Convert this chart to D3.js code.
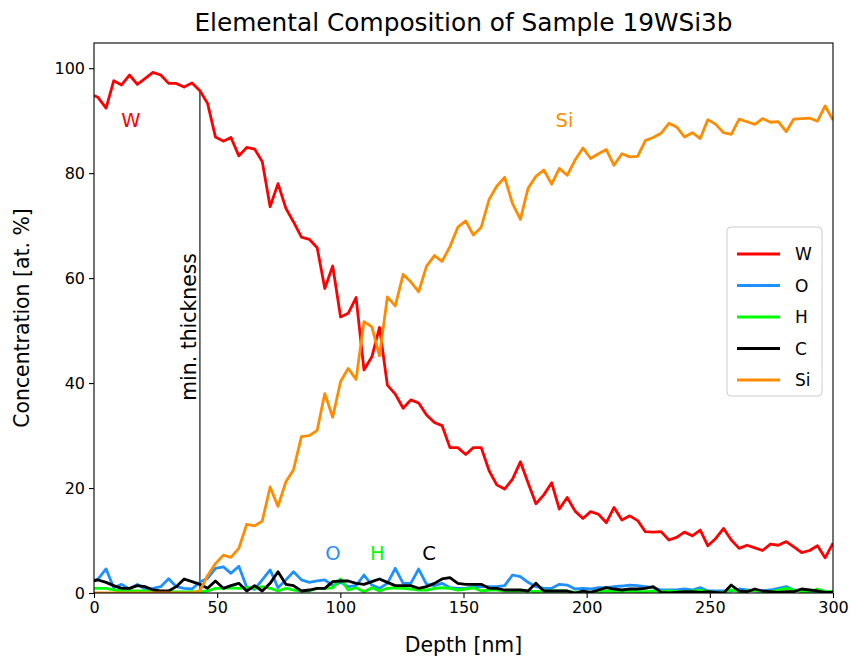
<!DOCTYPE html>
<html><head><meta charset="utf-8">
<script src="https://cdn.jsdelivr.net/npm/d3@7"></script>
<style>body{margin:0;background:#fff}svg{display:block;font-family:"DejaVu Sans",sans-serif}</style>
</head><body><svg id="c" width="855" height="660"></svg>
<script>
const depth = [0, 1.7, 4.9, 8.0, 11.2, 14.4, 17.6, 20.7, 23.9, 27.1, 30.3, 33.4, 36.6, 39.8, 43.0, 46.1, 49.3, 52.5, 55.6, 58.8, 62.0, 65.2, 68.3, 71.5, 74.7, 77.9, 81.0, 84.2, 87.4, 90.6, 93.7, 96.9, 100.1, 103.2, 106.4, 109.6, 112.8, 115.9, 119.1, 122.3, 125.5, 128.6, 131.8, 135.0, 138.2, 141.3, 144.5, 147.7, 150.9, 154.0, 157.2, 160.4, 163.5, 166.7, 169.9, 173.1, 176.2, 179.4, 182.6, 185.8, 188.9, 192.1, 195.3, 198.5, 201.6, 204.8, 208.0, 211.1, 214.3, 217.5, 220.7, 223.8, 227.0, 230.2, 233.4, 236.5, 239.7, 242.9, 246.1, 249.2, 252.4, 255.6, 258.7, 261.9, 265.1, 268.3, 271.4, 274.6, 277.8, 281.0, 284.1, 287.3, 290.5, 293.7, 296.8, 300.0];
const W = [94.8, 94.4, 92.4, 97.6, 96.8, 98.7, 96.9, 98.0, 99.2, 98.7, 97.1, 97.1, 96.4, 97.2, 95.7, 93.3, 86.9, 86.1, 86.8, 83.3, 84.9, 84.6, 82.2, 73.6, 78.0, 73.3, 70.7, 67.8, 67.4, 65.8, 58.0, 62.3, 52.6, 53.3, 56.3, 42.5, 45.0, 50.6, 39.6, 37.9, 35.2, 36.8, 36.2, 33.9, 32.5, 31.9, 27.7, 27.7, 26.4, 27.7, 27.7, 23.3, 20.6, 19.8, 21.7, 25.0, 21.0, 17.0, 18.7, 21.0, 16.0, 18.2, 15.6, 14.2, 15.5, 15.0, 13.4, 16.3, 13.9, 14.7, 13.8, 11.7, 11.6, 11.7, 10.1, 10.6, 11.6, 10.9, 12.0, 9.0, 10.4, 12.3, 10.1, 8.5, 9.1, 8.6, 8.1, 9.3, 9.1, 9.8, 8.8, 7.7, 8.1, 9.0, 6.7, 9.5];
const O = [2.4, 2.7, 4.6, 1.0, 1.65, 0.76, 1.65, 0.76, 0.9, 1.2, 2.7, 1.2, 0.9, 0.76, 2.1, 2.8, 4.7, 5.0, 3.75, 5.1, 1.1, 0.7, 2.5, 4.4, 1.0, 2.5, 4.06, 2.5, 2.03, 2.29, 2.48, 1.4, 2.03, 1.21, 1.4, 3.43, 1.52, 0.89, 1.84, 4.7, 1.84, 1.84, 4.57, 1.65, 1.4, 1.84, 1.02, 0.89, 0.89, 1.21, 1.21, 1.21, 1.21, 1.4, 3.43, 3.1, 2.03, 1.21, 0.89, 0.89, 1.65, 1.52, 0.76, 0.89, 0.76, 1.02, 1.02, 1.21, 1.33, 1.52, 1.4, 1.21, 1.02, 0.57, 0.57, 0.57, 0.76, 0.57, 1.02, 0.38, 0.38, 0.38, 0.38, 0.76, 0.57, 0.38, 0.38, 0.57, 0.89, 1.21, 0.57, 0.38, 0.25, 0.25, 0.25, 0.25];
const H = [0.9, 0.9, 0.9, 0.57, 0.38, 0.38, 0.38, 0.38, 0.25, 0.25, 0.25, 0.2, 0.2, 0.2, 0.25, 0.38, 0.9, 0.9, 1.0, 0.9, 1.0, 0.9, 1.2, 0.9, 0.38, 0.9, 0.57, 0.38, 0.38, 0.9, 0.9, 1.0, 2.67, 0.57, 1.0, 0.25, 1.0, 0.38, 0.9, 1.0, 0.9, 0.76, 0.57, 0.57, 0.9, 1.0, 0.9, 0.57, 0.76, 1.0, 0.38, 0.57, 0.57, 0.38, 0.38, 0.38, 0.38, 0.25, 0.38, 0.38, 0.38, 0.38, 0.13, 0.25, 0.13, 0.25, 0.38, 0.25, 0.25, 0.38, 0.25, 0.25, 0.38, 0.25, 0.38, 0.25, 0.25, 0.38, 0.5, 0.25, 0.13, 0.13, 0.6, 0.25, 0.38, 0.5, 0.25, 0.25, 0.57, 0.9, 0.57, 0.25, 0.13, 0.76, 0.25, 0.25];
const C = [2.3, 2.48, 2.03, 1.4, 0.89, 0.89, 1.4, 1.21, 0.57, 0.38, 0.38, 1.21, 2.67, 2.16, 1.65, 0.89, 2.29, 0.89, 1.4, 1.84, 0.38, 1.4, 0.38, 1.84, 4.06, 1.65, 1.4, 0.38, 0.57, 0.89, 0.89, 2.16, 2.29, 2.29, 1.84, 1.65, 2.16, 2.67, 2.03, 1.4, 1.4, 1.4, 0.89, 1.21, 1.84, 2.67, 2.92, 1.84, 1.65, 1.65, 1.65, 0.89, 0.89, 0.57, 0.57, 0.57, 0.38, 1.84, 0.38, 0.38, 0.38, 0.38, 0.0, 0.38, 0.13, 0.57, 1.02, 0.76, 0.57, 0.76, 0.76, 0.89, 1.21, 0.13, 0.0, 0.13, 0.25, 0.25, 0.13, 0.25, 0.13, 0.0, 1.52, 0.38, 0.25, 0.76, 0.38, 0.25, 0.13, 0.25, 0.25, 0.76, 0.57, 0.38, 0.13, 0.13];
const Si = [0, 0, 0, 0, 0, 0, 0, 0, 0, 0, 0, 0, 0, 0, 0.4, 3.3, 5.6, 7.2, 6.8, 8.5, 13.1, 12.8, 13.7, 20.2, 16.5, 21.2, 23.5, 29.8, 30.0, 31.0, 38.0, 33.5, 40.3, 42.8, 40.7, 51.7, 50.7, 45.2, 56.4, 54.7, 60.7, 59.3, 57.4, 62.3, 64.3, 63.2, 66.0, 69.7, 70.9, 68.2, 69.7, 75.0, 77.5, 79.2, 74.2, 71.2, 77.1, 79.4, 80.6, 77.9, 80.9, 79.6, 82.5, 84.8, 82.8, 83.7, 84.5, 81.5, 83.7, 83.1, 83.2, 86.2, 86.8, 87.6, 89.5, 88.8, 86.9, 87.7, 86.6, 90.2, 89.3, 87.7, 87.4, 90.3, 89.8, 89.3, 90.4, 89.7, 89.8, 87.9, 90.3, 90.4, 90.5, 89.9, 92.8, 90.1];
const seriesNames = ["W", "O", "H", "C", "Si"];
const seriesValues = [W, O, H, C, Si];
const seriesColors = ["#ff0000", "#1e90ff", "#00ff00", "#000000", "#ff8c00"];
const xTicks = [0, 50, 100, 150, 200, 250, 300];
const yTicks = [0, 20, 40, 60, 80, 100];
const minThickness = 43;
const labelPos = [[15, 90], [97, 7.5], [115, 7.5], [136, 7.5], [191, 90]];

const svg = d3.select("#c");
const m = {l: 94, t: 43, r: 22, b: 67};
const w = 855 - m.l - m.r, h = 660 - m.t - m.b;
const x = d3.scaleLinear().domain([0, 300]).range([0, w]);
const y = d3.scaleLinear().domain([0, 104.8]).range([h, 0]);
const g = svg.append("g").attr("transform", `translate(${m.l},${m.t})`);

svg.append("defs").append("clipPath").attr("id", "clip").append("rect").attr("width", w).attr("height", h);

const pg = g.append("g").attr("clip-path", "url(#clip)");
const wAt = W[depth.indexOf(minThickness)];
pg.append("line").attr("x1", x(minThickness)).attr("x2", x(minThickness))
  .attr("y1", y(0)).attr("y2", y(wAt)).attr("stroke", "#000").attr("stroke-width", 1.1);

const line = d3.line().x((d, i) => x(depth[i])).y(d => y(d));
seriesValues.forEach((vals, k) => {
  pg.append("path").datum(vals).attr("d", line).attr("fill", "none")
    .attr("stroke", seriesColors[k]).attr("stroke-width", 2.8).attr("stroke-linejoin", "round").attr("stroke-linecap", "butt");
});

seriesNames.forEach((n, k) => {
  g.append("text").attr("x", x(labelPos[k][0])).attr("y", y(labelPos[k][1]))
    .attr("text-anchor", "middle").attr("dominant-baseline", "central")
    .attr("fill", seriesColors[k]).attr("font-size", 19.5).text(n);
});
g.append("text").attr("transform", `translate(${x(minThickness) - 4},${y(50.7)}) rotate(-90)`)
  .attr("text-anchor", "middle").attr("font-size", 20.4).text("min. thickness");

const xa = g.append("g").attr("transform", `translate(0,${h})`)
  .call(d3.axisBottom(x).tickValues(xTicks).tickSize(5).tickPadding(4));
const ya = g.append("g").call(d3.axisLeft(y).tickValues(yTicks).tickSize(5).tickPadding(4));
[xa, ya].forEach(a => { a.select(".domain").remove(); a.selectAll("text").attr("font-size", 16).attr("font-family", "DejaVu Sans"); a.selectAll("line").attr("stroke-width", 1.1); });
g.append("rect").attr("width", w).attr("height", h).attr("fill", "none").attr("stroke", "#000").attr("stroke-width", 1.1);

svg.append("text").attr("x", m.l + w / 2).attr("y", 652).attr("text-anchor", "middle").attr("font-size", 20.4).text("Depth [nm]");
svg.append("text").attr("transform", `translate(29,${m.t + h / 2}) rotate(-90)`).attr("text-anchor", "middle").attr("font-size", 20.4).text("Concentration [at. %]");
svg.append("text").attr("x", m.l + w / 2).attr("y", 31).attr("text-anchor", "middle").attr("font-size", 24.8).text("Elemental Composition of Sample 19WSi3b");

const lg = svg.append("g").attr("transform", "translate(727,227)");
lg.append("rect").attr("width", 95).attr("height", 169).attr("rx", 4).attr("fill", "#fff").attr("fill-opacity", 0.8).attr("stroke", "#ccc");
seriesNames.forEach((n, k) => {
  const yy = 27 + k * 31.5;
  lg.append("line").attr("x1", 10).attr("x2", 53).attr("y1", yy).attr("y2", yy).attr("stroke", seriesColors[k]).attr("stroke-width", 2.8);
  lg.append("text").attr("x", 68).attr("y", yy).attr("dominant-baseline", "central").attr("font-size", 17).text(n);
});
</script></body></html>
